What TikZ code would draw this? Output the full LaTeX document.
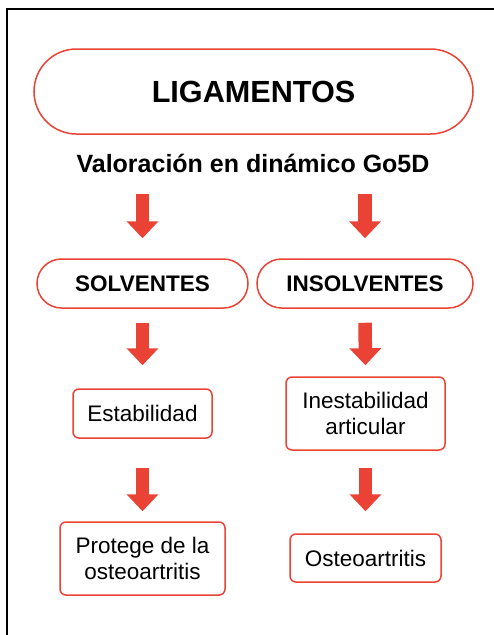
\documentclass[tikz,border=0pt]{standalone}
\usepackage{fontspec}
\setmainfont{Liberation Sans}
\usetikzlibrary{arrows.meta}
\definecolor{gred}{RGB}{234,67,53}
\tikzset{
  stad/.style={draw=gred, line width=1.5pt, fill=white, inner sep=0pt, align=center, font=\fontsize{22.5}{26}\selectfont\bfseries},
  rbox/.style={draw=gred, line width=1.5pt, fill=white, rounded corners=6pt, inner sep=0pt, align=center, font=\fontsize{22.5}{25.7}\selectfont},
  blk/.style={draw=gred, line width=13.5pt, -{Triangle[width=31pt,length=17pt]}},
}
\begin{document}
\begin{tikzpicture}[x=1pt,y=-1pt]
\useasboundingbox (0,0) rectangle (494,635);
\draw[line width=1.2pt] (7,640) -- (7,9) -- (500,9);
\node[stad, minimum width=439pt, minimum height=85pt, rounded corners=42.5pt, font=\fontsize{30.6}{34}\selectfont\bfseries] (title) at (253.5,91.5) {LIGAMENTOS};
\node[inner sep=0pt, font=\fontsize{25}{28}\selectfont\bfseries] (sub) at (253,163) {Valoración en dinámico Go5D};
\node[stad, minimum width=211pt, minimum height=49pt, rounded corners=24.5pt] (solv) at (142.5,283.5) {SOLVENTES};
\node[stad, minimum width=216pt, minimum height=49pt, rounded corners=24.5pt] (ins) at (365,283.5) {INSOLVENTES};
\node[rbox, minimum width=139pt, minimum height=49pt] (estab) at (142.5,413.5) {Estabilidad};
\node[rbox, minimum width=159pt, minimum height=73pt] (inest) at (365.5,413.5) {Inestabilidad\\articular};
\node[rbox, minimum width=165pt, minimum height=73pt] (prot) at (142.5,558.5) {Protege de la\\osteoartritis};
\node[rbox, minimum width=151pt, minimum height=48pt] (osteo) at (365.5,558) {Osteoartritis};
\draw[blk, shorten <=31pt, shorten >=20pt] (sub.center -| solv.north) -- (solv.north);
\draw[blk, shorten <=31pt, shorten >=20pt] (sub.center -| ins.north) -- (ins.north);
\draw[blk, shorten <=14pt, shorten >=23pt] (solv.south) -- (estab.north);
\draw[blk, shorten <=14pt, shorten >=11pt] (ins.south) -- (inest.north);
\draw[blk, shorten <=29pt, shorten >=10pt] (estab.south) -- (prot.north);
\draw[blk, shorten <=17pt, shorten >=22pt] (inest.south) -- (osteo.north);
\end{tikzpicture}
\end{document}
